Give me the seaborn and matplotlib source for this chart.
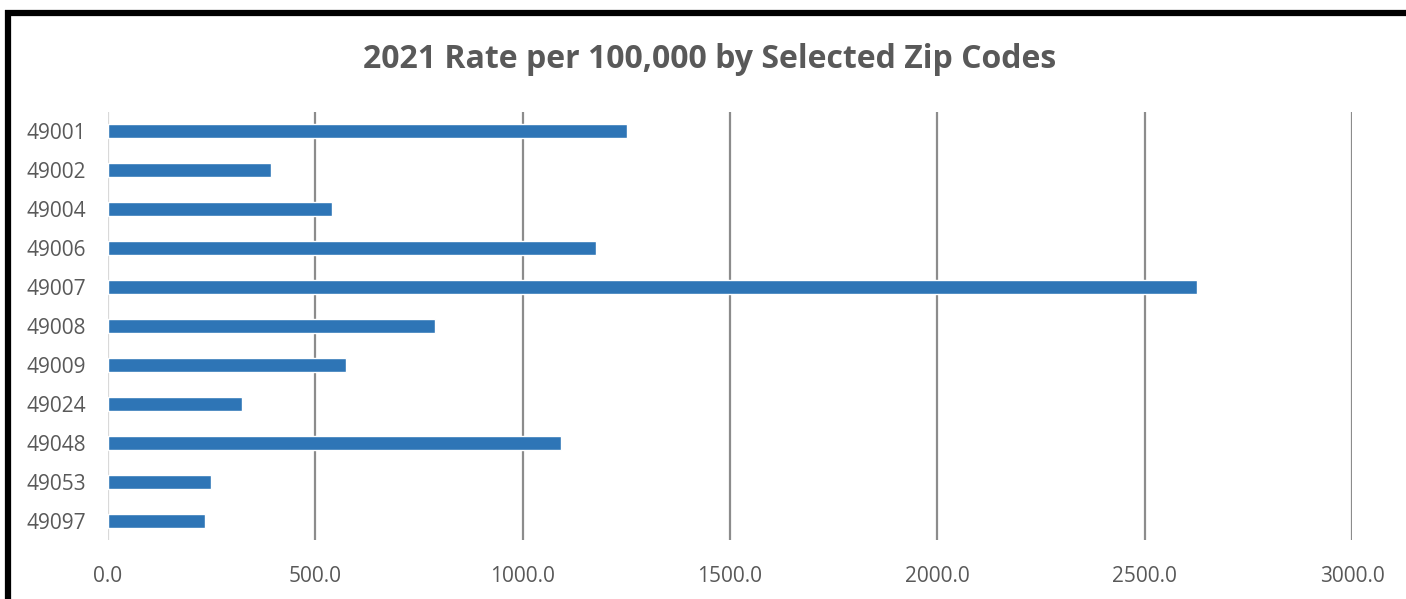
import matplotlib
matplotlib.use("Agg")
import matplotlib.pyplot as plt
import seaborn as sns
import pandas as pd

# Valores
zip_codes = ["49001", "49002", "49004", "49006", "49007", "49008",
             "49009", "49024", "49048", "49053", "49097"]
taxas = [1252, 394, 540, 1177, 2626, 788, 574, 323, 1092, 248, 234]
x_ticks = [0, 500, 1000, 1500, 2000, 2500, 3000]

df = pd.DataFrame({"Zip": zip_codes, "Taxa": taxas})

sns.set_style("white")
plt.rcParams["font.family"] = ["Open Sans", "DejaVu Sans"]

fig = plt.figure(figsize=(14.06, 5.99), dpi=100)
ax = fig.add_axes([0.0768, 0.0985, 0.9616 - 0.0768, 0.813 - 0.0985])

sns.barplot(data=df, x="Taxa", y="Zip", orient="h", color="#2E75B6",
            saturation=1, width=0.36, ax=ax, zorder=3)

ax.set_xlim(0, 3000)
ax.set_xticks(x_ticks)
ax.set_xticklabels([f"{v:.1f}" for v in x_ticks])
ax.set_xlabel("")
ax.set_ylabel("")
for v in x_ticks:
    ax.axvline(v, color="#D9D9D9" if v == 0 else "#8C8C8C", lw=1.6, zorder=1)
for s in ax.spines.values():
    s.set_visible(False)
ax.tick_params(axis="both", length=0, labelsize=15, colors="#595959")
ax.tick_params(axis="x", pad=19)
ax.tick_params(axis="y", pad=16)

fig.text(0.5045, 0.9, "2021 Rate per 100,000 by Selected Zip Codes",
         ha="center", va="center", fontsize=23, fontweight="bold", color="#595959")

# moldura preta (esquerda e topo)
fig.add_artist(plt.Line2D([0.0057, 0.0057], [0, 0.983], color="black", lw=4.5,
                          transform=fig.transFigure, solid_capstyle="butt"))
fig.add_artist(plt.Line2D([0.0036, 1.0], [0.979, 0.979], color="black", lw=4.5,
                          transform=fig.transFigure, solid_capstyle="butt"))

fig.savefig("out.png", dpi=100)
